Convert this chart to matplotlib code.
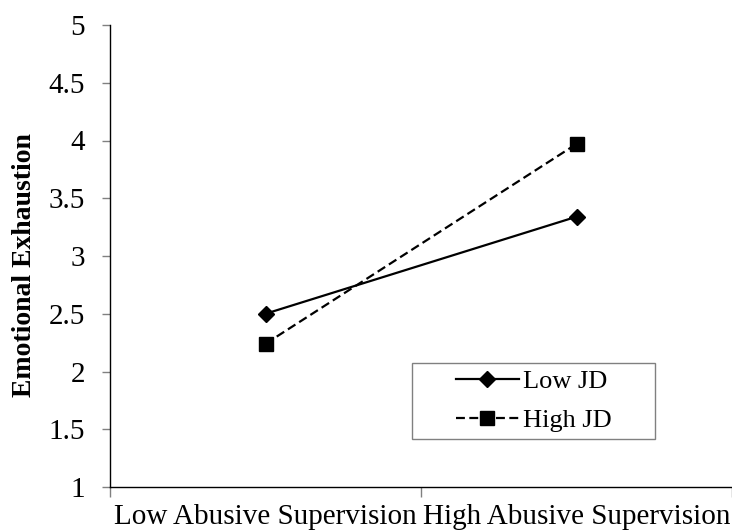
import matplotlib
matplotlib.use("Agg")
import matplotlib.pyplot as plt
from matplotlib.patches import Rectangle

categories = ["Low Abusive Supervision", "High Abusive Supervision"]
low_jd = [2.50, 3.34]
high_jd = [2.24, 3.97]
series_names = ["Low JD", "High JD"]
yticks = [1, 1.5, 2, 2.5, 3, 3.5, 4, 4.5, 5]
ytick_labels = ["1", "1.5", "2", "2.5", "3", "3.5", "4", "4.5", "5"]

plt.rcParams['font.family'] = ['Liberation Serif', 'DejaVu Serif']

W, H = 732, 530
fig = plt.figure(figsize=(W/100, H/100), dpi=100)
ax = fig.add_axes([110/W, 1-487/H, 1-110/W, (487-25)/H])

x = list(range(len(categories)))
ax.plot(x, low_jd, color='black', linestyle='-', linewidth=1.6, marker='D', markersize=8,
        label=series_names[0])
ax.plot(x, high_jd, color='black', linestyle=(0, (4, 2)), linewidth=1.6, marker='s', markersize=9.5,
        label=series_names[1])

ax.set_xlim(-0.5, 1.5)
ax.set_ylim(1, 5)
ax.set_yticks(yticks)
ax.set_yticklabels(ytick_labels, fontsize=21)
ax.set_xticks([-0.5, 0.5, 1.5])
ax.set_xticklabels([])
ax.set_xticks(x, minor=True)
ax.set_xticklabels(categories, minor=True, fontsize=21)
ax.tick_params(axis='x', which='minor', length=0, pad=12)
ax.tick_params(axis='x', which='major', length=7, width=1, direction='out', color='#808080')
ax.tick_params(axis='y', length=6, width=1, direction='out', pad=12, color='#808080')

ax.spines['top'].set_visible(False)
ax.spines['right'].set_visible(False)
ax.spines['left'].set_linewidth(1)
ax.spines['bottom'].set_linewidth(1)

ax.set_ylabel("Emotional Exhaustion", fontsize=20, fontweight='bold')
ax.yaxis.set_label_coords((37-110)/622, (487-265)/462)

# legend frame (pixel box in reference: x 412-655, y 363-439)
fx0, fx1, fy0, fy1 = 412/W, 655/W, 1-439/H, 1-363/H
fig.patches.append(Rectangle((fx0, fy0), fx1-fx0, fy1-fy0, transform=fig.transFigure,
                             facecolor='white', edgecolor='#808080', linewidth=1, zorder=5))
leg = fig.legend(*ax.get_legend_handles_labels(), loc='center',
                 bbox_to_anchor=((fx0+fx1)/2, (fy0+fy1)/2),
                 fontsize=19, frameon=False, handlelength=2.4,
                 borderpad=0.0, labelspacing=0.6, handletextpad=0.15)
leg.set_zorder(6)

fig.savefig("out.png", dpi=100)
